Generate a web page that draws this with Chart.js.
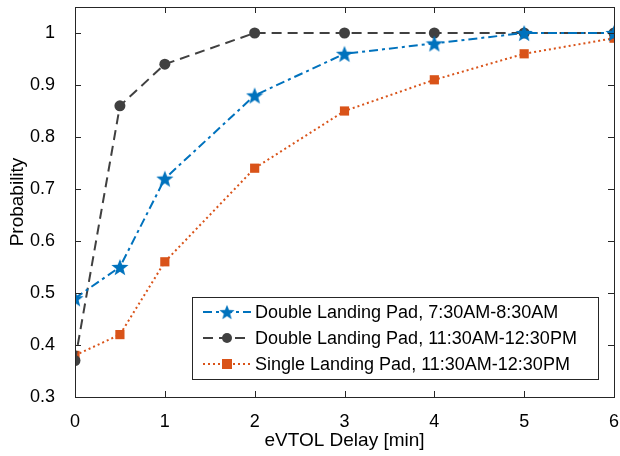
<!DOCTYPE html>
<html>
<head>
<meta charset="utf-8">
<script src="https://cdn.jsdelivr.net/npm/chart.js@4.4.1/dist/chart.umd.min.js"></script>
<style>
  html, body { margin: 0; padding: 0; background: #fff; }
  #wrap { width: 620px; height: 456px; }
</style>
</head>
<body>
<div id="wrap"><canvas id="delayChart" width="620" height="456"></canvas></div>
<script>
const delays = [0, 0.5, 1, 2, 3, 4, 5, 6];
const doubleMorning = [0.49, 0.55, 0.72, 0.88, 0.96, 0.98, 1.0, 1.0];
const doubleNoon = [0.37, 0.86, 0.94, 1.0, 1.0, 1.0, 1.0, 1.0];
const singleNoon = [0.38, 0.42, 0.56, 0.74, 0.85, 0.91, 0.96, 0.99];
const seriesNames = [
    'Double Landing Pad, 7:30AM-8:30AM',
    'Double Landing Pad, 11:30AM-12:30PM',
    'Single Landing Pad, 11:30AM-12:30PM'
];
const xTicks = [0, 1, 2, 3, 4, 5, 6];
const yTicks = [0.3, 0.4, 0.5, 0.6, 0.7, 0.8, 0.9, 1];

const FONT = '"Liberation Sans", Arial, Helvetica, sans-serif';
const axisColor = '#262626';

// filled five point star as a point image
function starImage(size, color) {
    const c = document.createElement('canvas');
    c.width = size; c.height = size;
    const g = c.getContext('2d');
    const cx = size / 2, cy = size / 2, R = size / 2, r = R * 0.42;
    g.beginPath();
    for (let i = 0; i < 10; i++) {
        const rad = i % 2 === 0 ? R : r;
        const a = -Math.PI / 2 + i * Math.PI / 5;
        const px = cx + rad * Math.cos(a), py = cy + rad * Math.sin(a) + size * 0.05;
        if (i === 0) g.moveTo(px, py); else g.lineTo(px, py);
    }
    g.closePath();
    g.fillStyle = color;
    g.fill();
    return c;
}
const star = starImage(18, '#0072BD');

function pairs(ys) {
    return delays.map((x, i) => ({ x: x, y: ys[i] }));
}

// MATLAB-like box with inward ticks and a legend inside the plot
const boxPlugin = {
    id: 'boxPlugin',
    afterDraw(chart) {
        const ctx = chart.ctx;
        const a = chart.chartArea;
        const xs = chart.scales.x, ys = chart.scales.y;
        ctx.save();
        ctx.strokeStyle = axisColor;
        ctx.lineWidth = 1;
        ctx.strokeRect(a.left + 0.5, a.top + 0.5, a.right - a.left, a.bottom - a.top);
        ctx.beginPath();
        xTicks.forEach(v => {
            const px = Math.round(xs.getPixelForValue(v)) + 0.5;
            ctx.moveTo(px, a.bottom); ctx.lineTo(px, a.bottom - 6);
            ctx.moveTo(px, a.top); ctx.lineTo(px, a.top + 6);
        });
        yTicks.forEach(v => {
            const py = Math.round(ys.getPixelForValue(v)) + 0.5;
            ctx.moveTo(a.left, py); ctx.lineTo(a.left + 6, py);
            ctx.moveTo(a.right, py); ctx.lineTo(a.right - 6, py);
        });
        ctx.stroke();

        // legend
        const lx = 192, ly = 297, lw = 406, lh = 82;
        ctx.fillStyle = '#fff';
        ctx.fillRect(lx, ly, lw, lh);
        ctx.strokeStyle = '#262626';
        ctx.strokeRect(lx + 0.5, ly + 0.5, lw, lh);
        ctx.font = '18px ' + FONT;
        ctx.textBaseline = 'middle';
        chart.data.datasets.forEach((ds, i) => {
            const y = ly + 15 + i * 26;
            ctx.save();
            ctx.strokeStyle = ds.borderColor;
            ctx.lineWidth = 2;
            ctx.setLineDash(ds.borderDash);
            ctx.beginPath();
            ctx.moveTo(lx + 11, y); ctx.lineTo(lx + 59, y);
            ctx.stroke();
            ctx.setLineDash([]);
            const mx = lx + 35;
            if (i === 0) {
                ctx.drawImage(star, mx - 8, y - 8, 16, 16);
            } else if (i === 1) {
                ctx.fillStyle = ds.backgroundColor;
                ctx.beginPath(); ctx.arc(mx, y, 5, 0, Math.PI * 2); ctx.fill();
            } else {
                ctx.fillStyle = ds.backgroundColor;
                ctx.fillRect(mx - 5, y - 5, 10, 10);
            }
            ctx.restore();
            ctx.fillStyle = '#000';
            ctx.fillText(ds.label, lx + 63, y + 1);
        });
        ctx.restore();
    }
};

new Chart(document.getElementById('delayChart'), {
    type: 'line',
    data: {
        datasets: [
            {
                label: seriesNames[0],
                data: pairs(doubleMorning),
                borderColor: '#0072BD',
                backgroundColor: '#0072BD',
                borderWidth: 2,
                borderDash: [9, 4, 3, 4],
                pointStyle: star,
                pointRadius: 9
            },
            {
                label: seriesNames[1],
                data: pairs(doubleNoon),
                borderColor: '#404040',
                backgroundColor: '#404040',
                borderWidth: 2,
                borderDash: [10, 6],
                pointStyle: 'circle',
                pointRadius: 5.5,
                pointBorderWidth: 0
            },
            {
                label: seriesNames[2],
                data: pairs(singleNoon),
                borderColor: '#D95319',
                backgroundColor: '#D95319',
                borderWidth: 2,
                borderDash: [2, 3],
                pointStyle: 'rect',
                pointRadius: 6.5,
                pointBorderWidth: 0
            }
        ]
    },
    options: {
        responsive: false,
        animation: false,
        layout: { autoPadding: false, padding: { top: 7, right: 6, left: 0, bottom: 0 } },
        plugins: {
            legend: { display: false },
            tooltip: { enabled: false }
        },
        scales: {
            x: {
                type: 'linear',
                min: 0,
                max: 6,
                afterFit: s => { s.height = 59; s.paddingLeft = 0; s.paddingRight = 0; },
                afterBuildTicks: s => { s.ticks = xTicks.map(v => ({ value: v })); },
                grid: { display: false },
                border: { display: false },
                ticks: { color: '#000', font: { family: FONT, size: 18 }, padding: 6, maxRotation: 0, callback: v => String(v) },
                title: {
                    display: true,
                    text: 'eVTOL Delay [min]',
                    color: '#000',
                    font: { family: FONT, size: 19 },
                    padding: { top: 4, bottom: 4 }
                }
            },
            y: {
                min: 0.3,
                max: 1.05,
                afterFit: s => { s.width = 75; s.paddingTop = 0; s.paddingBottom = 0; },
                afterBuildTicks: s => { s.ticks = yTicks.map(v => ({ value: v })); },
                grid: { display: false },
                border: { display: false },
                ticks: { color: '#000', font: { family: FONT, size: 18 }, padding: 12, callback: v => String(v) },
                title: {
                    display: true,
                    text: 'Probability',
                    color: '#000',
                    font: { family: FONT, size: 19 },
                    padding: { top: 6, bottom: 6 }
                }
            }
        }
    },
    plugins: [boxPlugin]
});
</script>
</body>
</html>
